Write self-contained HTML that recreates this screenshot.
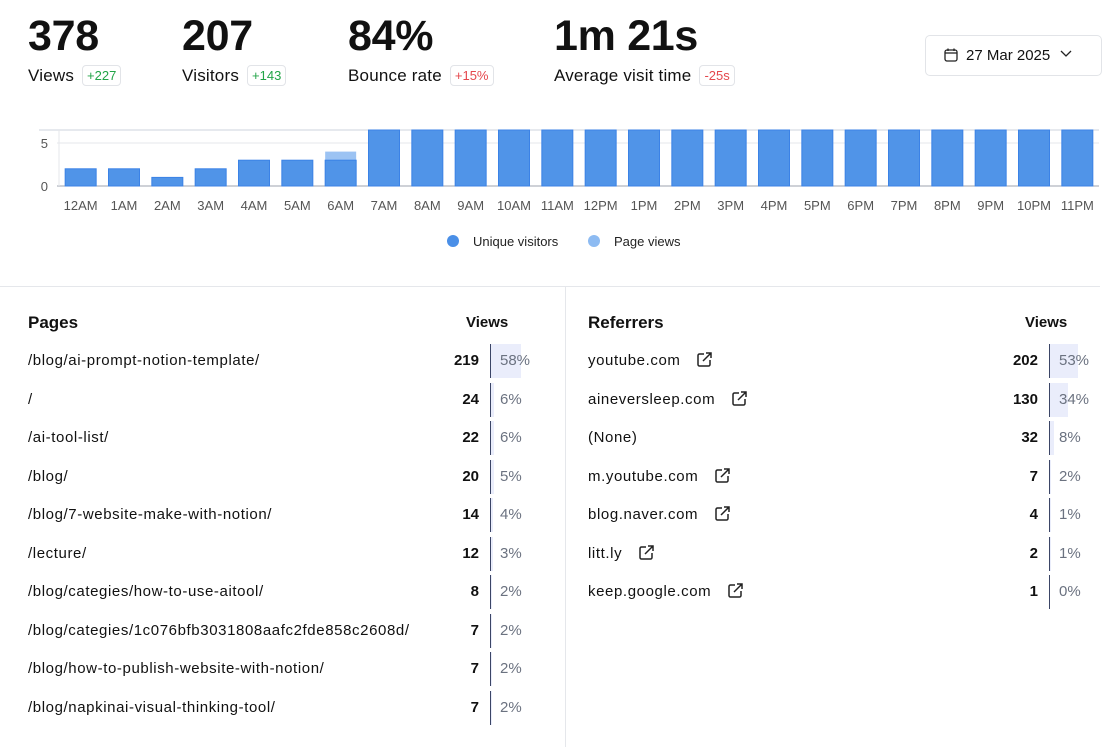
<!DOCTYPE html>
<html><head><meta charset="utf-8"><style>
*{box-sizing:border-box;margin:0;padding:0}
body{width:1117px;height:745px;background:#fff;font-family:"Liberation Sans",sans-serif;color:#111;position:relative;overflow:hidden}
.abs{position:absolute}
.num{font-size:43px;font-weight:bold;top:12px;letter-spacing:-0.3px}
.lbl{font-size:17px;top:66px;letter-spacing:0.2px}
.badge{font-size:13px;border:1px solid #e2e4e8;border-radius:4px;padding:2px 4px;margin-left:8px;position:relative;top:-1px;letter-spacing:0}
.g{color:#22a447}.r{color:#e5484d}
.row{position:absolute;font-size:15px;height:20px;line-height:20px;letter-spacing:0.6px}
.val{position:absolute;font-size:15px;font-weight:bold;text-align:right;width:60px}
.pct{position:absolute;font-size:15px;color:#6b7280}
.pbar{position:absolute;height:34px;border-left:1.5px solid #3b4566;background:transparent}
.pfill{position:absolute;left:0;top:0;height:34px;background:#eaedfb}
.ext{display:inline-block;margin-left:16px;vertical-align:-3px}
</style></head><body>
<div class="abs num" style="left:28px">378</div>
<div class="abs lbl" style="left:28px">Views<span class="badge g">+227</span></div>
<div class="abs num" style="left:182px">207</div>
<div class="abs lbl" style="left:182px">Visitors<span class="badge g">+143</span></div>
<div class="abs num" style="left:348px">84%</div>
<div class="abs lbl" style="left:348px">Bounce rate<span class="badge r">+15%</span></div>
<div class="abs num" style="left:554px">1m 21s</div>
<div class="abs lbl" style="left:554px">Average visit time<span class="badge r">-25s</span></div>
<div class="abs" style="left:925px;top:35px;width:177px;height:41px;border:1px solid #e2e4e8;border-radius:5px;font-size:15px;line-height:39px;padding-left:18px">
<svg width="14" height="14" viewBox="0 0 14 14" style="vertical-align:-2px;margin-right:8px"><rect x="1" y="2" width="12" height="11" rx="2" fill="none" stroke="#222" stroke-width="1.3"/><line x1="1" y1="5" x2="13" y2="5" stroke="#222" stroke-width="1.3"/><line x1="4" y1="0.5" x2="4" y2="3" stroke="#222" stroke-width="1.3"/><line x1="10" y1="0.5" x2="10" y2="3" stroke="#222" stroke-width="1.3"/></svg>27 Mar 2025<svg width="12" height="8" viewBox="0 0 12 8" style="margin-left:10px;vertical-align:2px"><path d="M1 1l5 5 5-5" fill="none" stroke="#222" stroke-width="1.3"/></svg></div>

<svg class="abs" style="left:0;top:0" width="1117" height="270" id="chart"></svg>

<div class="abs" style="left:0;top:286px;width:1100px;height:1px;background:#e5e7eb"></div>
<div class="abs" style="left:565px;top:287px;width:1px;height:460px;background:#e5e7eb"></div>
<div class="abs" style="left:28px;top:313px;font-size:17px;font-weight:bold">Pages</div>
<div class="abs" style="left:466px;top:314px;font-size:15px;font-weight:bold">Views</div>
<div class="abs" style="left:588px;top:313px;font-size:17px;font-weight:bold">Referrers</div>
<div class="abs" style="left:1025px;top:314px;font-size:15px;font-weight:bold">Views</div>
<div id="tables"></div>
<script>
const hours=["12AM","1AM","2AM","3AM","4AM","5AM","6AM","7AM","8AM","9AM","10AM","11AM","12PM","1PM","2PM","3PM","4PM","5PM","6PM","7PM","8PM","9PM","10PM","11PM"];
const uniqueVisitors=[2,2,1,2,3,3,3,12,14,13,12,11,10,12,11,12,10,9,10,11,9,10,9,10];
const pageViews=[2,2,1,2,3,3,4,14,16,15,14,13,12,14,13,14,12,11,12,13,11,12,11,12];
const yTicks=[0,5];
const ns="http://www.w3.org/2000/svg";
const svg=document.getElementById('chart');
const x0=59,x1=1099,yBase=186,yTop=130,unit=8.6;
const band=(x1-x0)/hours.length;
const yS=v=>yBase-v*unit;
function mk(t,a){const e=document.createElementNS(ns,t);for(const k in a)e.setAttribute(k,a[k]);svg.appendChild(e);return e;}
const topBorder=mk('line',{x1:x0-20,x2:x1,y1:yTop,y2:yTop,stroke:'#cdd3dc'});


yTicks.forEach(t=>{
 const l=mk('line',{x1:x0-2,x2:x1,y1:yS(t),y2:yS(t),stroke:t?'#e5e7eb':'#9ca3af'});
 
 
 const tx=mk('text',{x:48,y:yS(t)+5,'text-anchor':'end','font-size':13,fill:'#555','font-family':'Liberation Sans'});
 tx.textContent=t;
 
 
});
const yAxisLine=mk('line',{x1:x0,x2:x0,y1:yTop,y2:yBase,stroke:'#e5e7eb'});


hours.forEach((h,i)=>{
 const cx=x0+band*(i+0.5),w=31;
 const pv=Math.max(pageViews[i],uniqueVisitors[i]);
 const py=Math.max(yS(pv),yTop);
 const b2=mk('rect',{x:cx-w/2,y:py,width:w,height:yBase-py,fill:'#9cc3f3'});
 
 
 const uy=Math.max(yS(uniqueVisitors[i]),yTop);
 const b=mk('rect',{x:cx-w/2,y:uy,width:w,height:yBase-uy,fill:'#5094e8',stroke:'#3b82e6','stroke-width':1});
 
 
 const tx=mk('text',{x:cx,y:210,'text-anchor':'middle','font-size':13,fill:'#555','font-family':'Liberation Sans'});
 tx.textContent=h;
 
 
});
[[453,'#4a8fe7','Unique visitors'],[594,'#8dbbf2','Page views']].forEach(([x,c,t])=>{
 const g=document.createElementNS(ns,'g');svg.appendChild(g);
 
 
 const ci=document.createElementNS(ns,'circle');ci.setAttribute('cx',x);ci.setAttribute('cy',241);ci.setAttribute('r',6);ci.setAttribute('fill',c);g.appendChild(ci);
 const tx=document.createElementNS(ns,'text');tx.setAttribute('x',x+20);tx.setAttribute('y',246);tx.setAttribute('font-size',13);tx.setAttribute('fill','#222');tx.setAttribute('font-family','Liberation Sans');tx.textContent=t;g.appendChild(tx);
});

const pagePaths=["/blog/ai-prompt-notion-template/","/","/ai-tool-list/","/blog/","/blog/7-website-make-with-notion/","/lecture/","/blog/categies/how-to-use-aitool/","/blog/categies/1c076bfb3031808aafc2fde858c2608d/","/blog/how-to-publish-website-with-notion/","/blog/napkinai-visual-thinking-tool/"];
const pageViewsCount=[219,24,22,20,14,12,8,7,7,7];
const pagePct=[58,6,6,5,4,3,2,2,2,2];
const referrers=["youtube.com","aineversleep.com","(None)","m.youtube.com","blog.naver.com","litt.ly","keep.google.com"];
const refViews=[202,130,32,7,4,2,1];
const refPct=[53,34,8,2,1,1,0];
const T=document.getElementById('tables');
const extIcon='<svg class="ext" width="17" height="17" viewBox="0 0 17 17"><path d="M8 3H3.5A1.5 1.5 0 0 0 2 4.5v9A1.5 1.5 0 0 0 3.5 15h9a1.5 1.5 0 0 0 1.5-1.5V9" fill="none" stroke="#222" stroke-width="1.5"/><path d="M7 10L15 2M10 2h5v5" fill="none" stroke="#222" stroke-width="1.5"/></svg>';
function table(names,vals,pcts,lx,vx,bx,pfx,ext){
 names.forEach((n,i)=>{
  const y=351+i*38.5;
  const r=document.createElement('div');r.className='row';r.style.left=lx+'px';r.style.top=y+'px';
  r.innerHTML=n+(ext&&n!=='(None)'?extIcon:'');
  
  
  T.appendChild(r);
  const v=document.createElement('div');v.className='val';v.style.left=(vx-60)+'px';v.style.top=(y+1)+'px';v.textContent=vals[i];
  
  
  T.appendChild(v);
  const b=document.createElement('div');b.className='pbar';b.style.left=bx+'px';b.style.top=(y-7)+'px';
  b.innerHTML='<div class="pfill" style="width:'+(pcts[i]*0.52)+'px"></div>';
  
  
  T.appendChild(b);
  const p=document.createElement('div');p.className='pct';p.style.left=(bx+10)+'px';p.style.top=(y+1)+'px';p.textContent=pcts[i]+'%';
  
  
  T.appendChild(p);
 });
}
table(pagePaths,pageViewsCount,pagePct,28,479,490,'page',false);
table(referrers,refViews,refPct,588,1038,1049,'referrer',true);
</script>
</body></html>
